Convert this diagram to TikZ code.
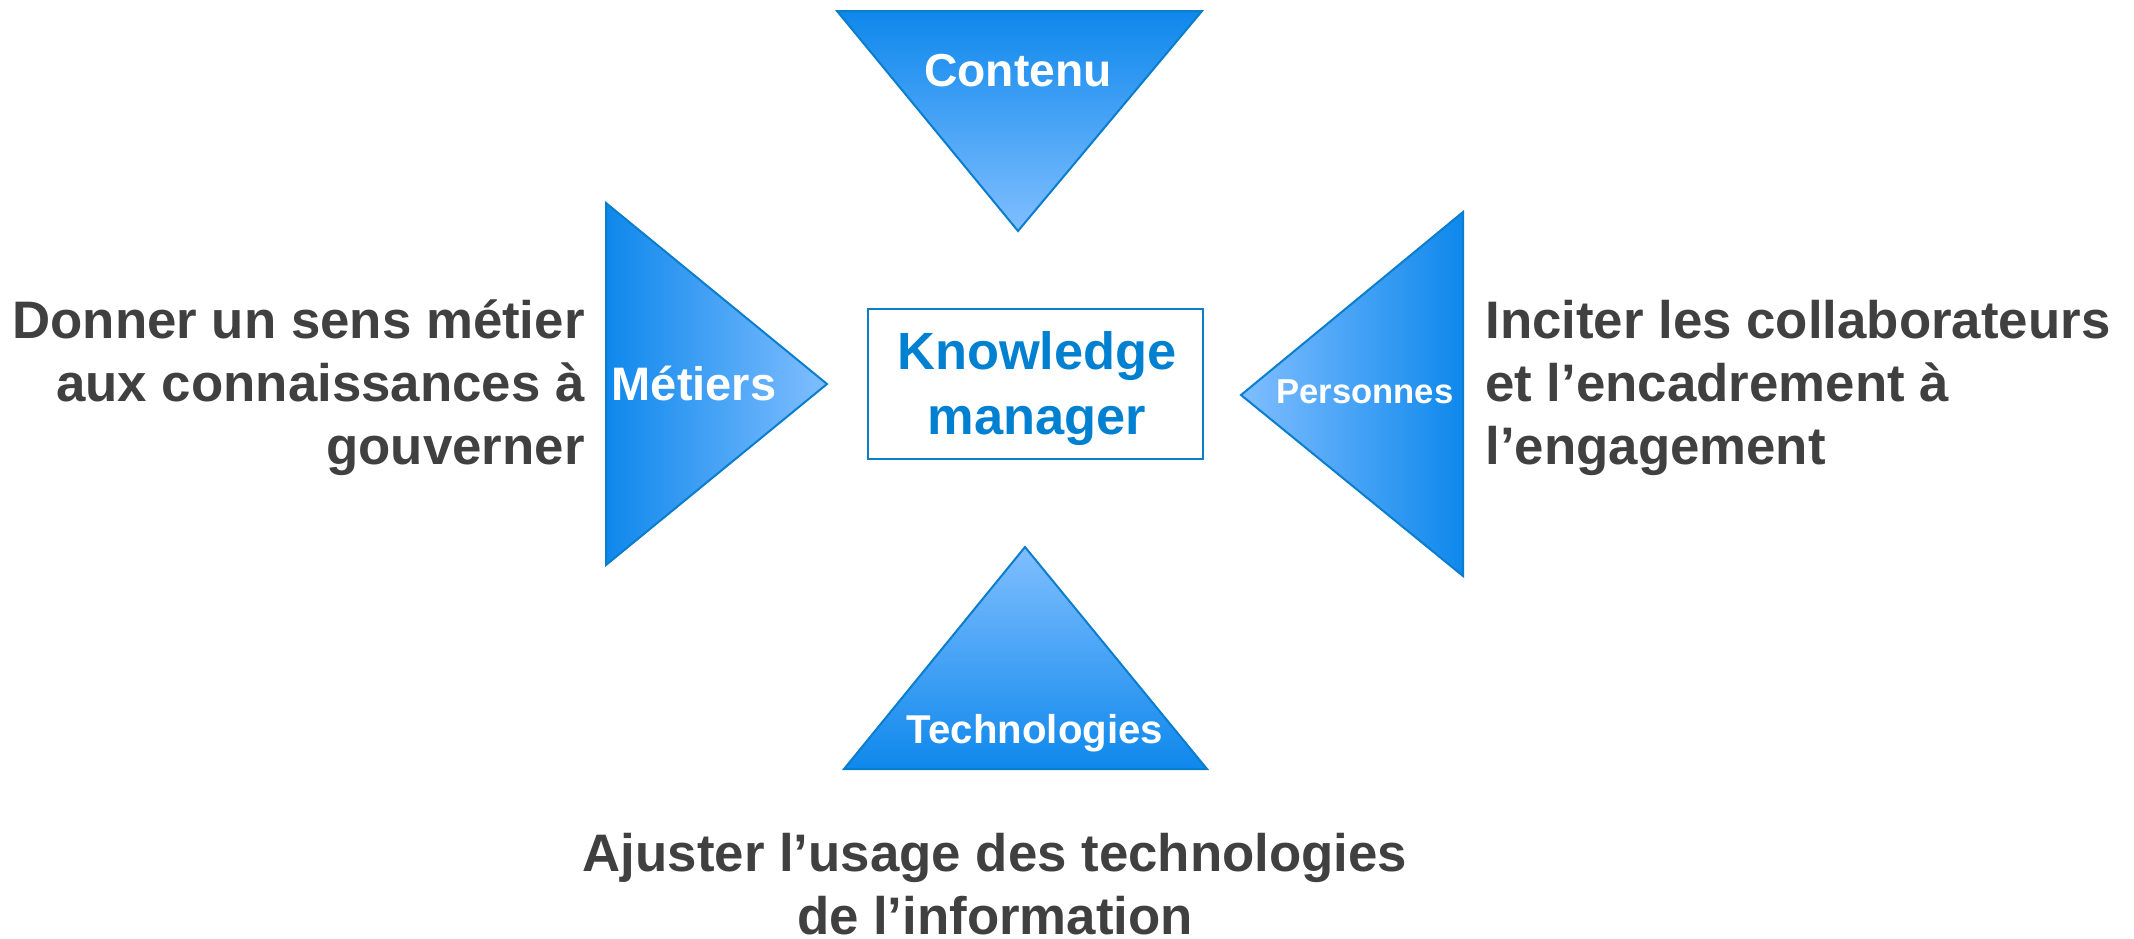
\documentclass[tikz,border=0pt]{standalone}
\usepackage{fontspec}
\setmainfont{Liberation Sans}
\definecolor{kmedge}{RGB}{10,125,205}
\definecolor{kmdark}{RGB}{14,136,236}
\definecolor{kmlight}{RGB}{128,190,255}
\definecolor{kmtext}{RGB}{0,128,208}
\definecolor{kmgray}{RGB}{64,64,64}
\tikzstyle{wedge} = [draw=kmedge, line width=1pt, line join=miter]
\tikzstyle{wedgelabel} = [text=white, font=\bfseries, inner sep=0pt]
\tikzstyle{kmbox} = [rectangle, draw=kmedge, line width=1pt, fill=white, minimum width=167.5pt, minimum height=75pt, align=center, text=kmtext, font=\bfseries\fontsize{26.2}{32.5}\selectfont]
\tikzstyle{goal} = [text=kmgray, inner sep=0pt, font=\bfseries\fontsize{26.4}{31.5}\selectfont]

\begin{document}
\begin{tikzpicture}[x=0.5pt, y=-0.5pt]
\useasboundingbox (0,0) rectangle (2134,938);

% Four wedges round the manager
\draw [wedge, top color=kmdark, bottom color=kmlight] (837,11) -- (1202,11) -- (1018,231) -- cycle;
\draw [wedge, left color=kmdark, right color=kmlight] (606,203) -- (827,384) -- (606,565) -- cycle;
\draw [wedge, left color=kmlight, right color=kmdark] (1463,212) -- (1241,395) -- (1463,576) -- cycle;
\draw [wedge, top color=kmlight, bottom color=kmdark] (1025,547) -- (1207,769) -- (844,769) -- cycle;

% Wedge labels
\node (contenu) [wedgelabel, font=\bfseries\fontsize{23.1}{27}\selectfont] at (1018,71) {Contenu};
\node (metiers) [wedgelabel, font=\bfseries\fontsize{23.5}{28}\selectfont] at (694,383) {Métiers};
\node (personnes) [wedgelabel, font=\bfseries\fontsize{17.3}{21}\selectfont] at (1365,392) {Personnes};
\node (techno) [wedgelabel, font=\bfseries\fontsize{20.1}{24}\selectfont] at (1035,733) {Technologies};

% Centre
\node (km) [kmbox] at (1035.5,384) {};
\node (kmlabel) [text=kmtext, align=center, inner sep=0pt, font=\bfseries\fontsize{26.2}{32.5}\selectfont] at (1037,389) {Knowledge\\manager};

% Goals
\node (metiersgoal) [goal, anchor=east, align=right] at (585,388) {Donner un sens métier\\aux connaissances à\\gouverner};
\node (personnesgoal) [goal, anchor=west, align=left] at (1485,388) {Inciter les collaborateurs\\et l’encadrement à\\l’engagement};
\node (technogoal) [goal, align=center] at (995,884) {Ajuster l’usage des technologies\\de l’information};

\end{tikzpicture}
\end{document}
